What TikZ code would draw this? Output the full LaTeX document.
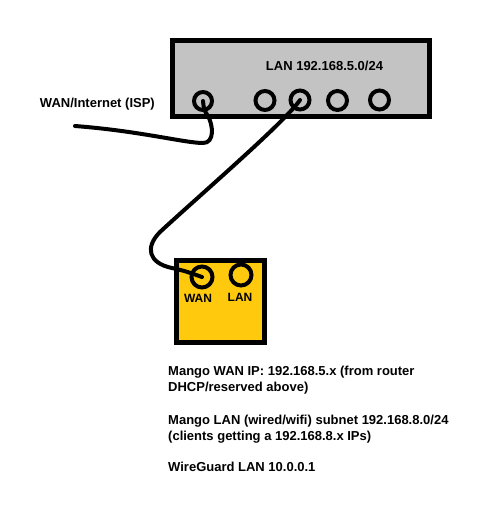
\documentclass[tikz,border=0pt]{standalone}
\usepackage{fontspec}
\setmainfont{Liberation Sans}
\definecolor{routergray}{HTML}{C3C3C3}
\definecolor{mangoyellow}{HTML}{FFC90E}
\begin{document}
\begin{tikzpicture}[x=1pt,y=-1pt,
  box/.style={draw=black,line width=5pt},
  port/.style={draw=black,line width=4pt,circle,inner sep=0pt,minimum size=#1},
  port/.default=19pt,
  cable/.style={draw=black,line width=4pt,line cap=round},
  lbl/.style={font=\bfseries\fontsize{13}{16}\selectfont,inner sep=0pt,text=black},
  para/.style={lbl,anchor=north west,align=left}]
\useasboundingbox (0,0) rectangle (479,507);
% router
\draw[box,fill=routergray] (172,40) rectangle (429.5,116.5);
\node[lbl] (lanlbl) at (324.5,66) {LAN 192.168.5.0/24};
\node[port=18pt] (r1) at (203,101) {};
\node[port] (r2) at (265,100.5) {};
\node[port] (r3) at (300,100) {};
\node[port] (r4) at (337.5,100.5) {};
\node[port] (r5) at (379.5,100) {};
\node[lbl,anchor=east] (isp) at (155,104) {WAN/Internet (ISP)};
% mango
\draw[box,fill=mangoyellow] (176.5,260.5) rectangle (264.5,342.5);
\node[port=21pt] (mw) at (202,277) {};
\node[port=21pt] (ml) at (241,275) {};
\node[lbl,font=\bfseries\fontsize{12}{14}\selectfont] (mwl) at (198,298) {WAN};
\node[lbl,font=\bfseries\fontsize{12}{14}\selectfont] (mll) at (240,297) {LAN};
% cables
\coordinate (ispend) at (75,126);
\draw[cable] (ispend) .. controls (140,131) and (185,143) .. (203,143)
  .. controls (215,143) and (213,125) .. (208,116) .. controls (204,110) .. (r1.center);
\draw[cable] (r3.center) .. controls (285,122) and (200,195) .. (160,232)
  .. controls (145,247) and (148,263) .. (172,268) .. controls (185,271) .. (mw.center);
% notes
\node[para] (n1) at (168,366) {Mango WAN IP: 192.168.5.x (from router\\DHCP/reserved above)};
\node[para] (n2) at (168,415) {Mango LAN (wired/wifi) subnet 192.168.8.0/24\\(clients getting a 192.168.8.x IPs)};
\node[para] (n3) at (168,462) {WireGuard LAN 10.0.0.1};
\end{tikzpicture}
\end{document}
